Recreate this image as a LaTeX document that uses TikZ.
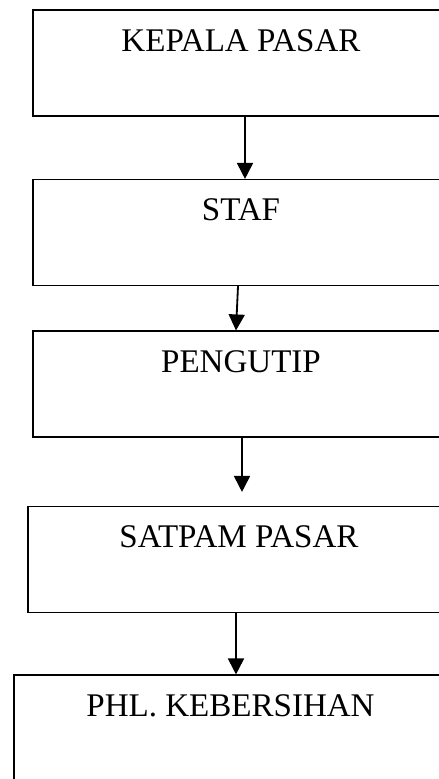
\documentclass[tikz,border=0pt]{standalone}
\usepackage{fontspec}
\setmainfont{Liberation Serif}
\usetikzlibrary{arrows.meta}

\tikzset{
  box/.style={draw, line width=0.8pt, rectangle, inner sep=0pt, anchor=center,
    text height=1.03cm, text depth=1.62cm, minimum width=10.4cm,
    font=\fontsize{23.5}{28}\selectfont},
  arr/.style={line width=1.3pt, -{Triangle[width=0.4cm,length=0.4cm]}}
}

\begin{document}
\begin{tikzpicture}
    \clip (0,0) rectangle (10.975,-19.475);
    % boxes, right side runs off the page
    \node[box] (kepala) at (6.025,-1.575) {KEPALA PASAR};
    \node[box] (staf) at (6.025,-5.8125) {STAF};
    \node[box] (pengutip) at (6.025,-9.6) {PENGUTIP};
    \node[box, minimum width=10.55cm] (satpam) at (5.975,-13.9875) {SATPAM PASAR};
    \node[box, minimum width=10.825cm] (phl) at (5.7625,-18.2) {PHL. KEBERSIHAN};
    % arrows
    \draw[arr] ([xshift=0.1cm]kepala.south) -- ([xshift=0.1cm]staf.north);
    \draw[arr] ([xshift=-0.075cm]staf.south) -- ([xshift=-0.125cm]pengutip.north);
    \draw[arr] ([xshift=0.025cm]pengutip.south) -- ([xshift=0.075cm,yshift=0.35cm]satpam.north);
    \draw[arr] ([xshift=-0.075cm]satpam.south) -- ([xshift=0.1375cm]phl.north);
\end{tikzpicture}
\end{document}
